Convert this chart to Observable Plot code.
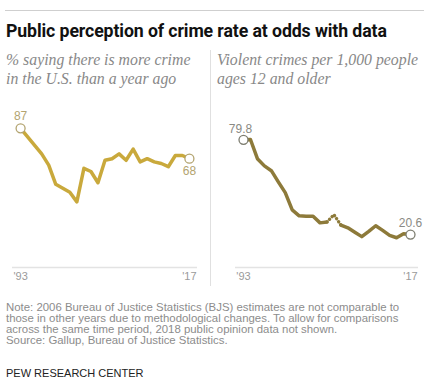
<!DOCTYPE html>
<html>
<head>
<meta charset="utf-8">
<script src="https://cdn.jsdelivr.net/npm/d3@7"></script>
<script src="https://cdn.jsdelivr.net/npm/@observablehq/plot@0.6"></script>
<style>
  html, body { margin: 0; padding: 0; background: #fff; }
  #chart { position: relative; width: 429px; height: 390px; overflow: hidden; font-family: "Liberation Sans", Arial, sans-serif; }
  .rule { position: absolute; left: 5px; top: 10px; width: 419px; height: 1px; background: #cfcfcf; }
  .title { position: absolute; left: 6px; top: 21px; font-family: Roboto, "Liberation Sans", sans-serif; font-weight: 700; font-size: 17.7px; color: #111; white-space: nowrap; letter-spacing: -0.1px; }
  .sub { position: absolute; top: 50px; font-family: "Liberation Serif", serif; font-style: italic; font-size: 15.8px; line-height: 19px; color: #888; white-space: nowrap; }
  .divider { position: absolute; left: 210px; top: 50px; width: 1px; height: 236px; background: #e0e0e0; }
  .panel { position: absolute; top: 90px; }
  .notes { position: absolute; left: 6px; top: 302px; font-size: 11.4px; line-height: 11px; color: #8c8c8c; white-space: nowrap; }
  .pew { position: absolute; left: 6px; top: 367px; font-size: 11px; color: #222; white-space: nowrap; }
</style>
</head>
<body>
<div id="chart">
  <div class="rule"></div>
  <div class="title">Public perception of crime rate at odds with data</div>
  <div class="sub" style="left:6px">% saying there is more crime<br>in the U.S. than a year ago</div>
  <div class="sub" style="left:217px">Violent crimes per 1,000 people<br>ages 12 and older</div>
  <div class="divider"></div>
  <div class="panel" id="left" style="left:0px"></div>
  <div class="panel" id="right" style="left:210px"></div>
  <div class="notes">Note: 2006 Bureau of Justice Statistics (BJS) estimates are not comparable to<br>those in other years due to methodological changes. To allow for comparisons<br>across the same time period, 2018 public opinion data not shown.<br>Source: Gallup, Bureau of Justice Statistics.</div>
  <div class="pew">PEW RESEARCH CENTER</div>
</div>
<script>
// Gallup: % saying there is more crime in the U.S. than a year ago
const gallupYears = [1993,1996,1997,1998,2000,2001,2002,2003,2004,2005,2006,2007,2008,2009,2010,2011,2012,2013,2014,2015,2016,2017];
const gallupValues = [87,71,64,52,47,41,62,60,53,67,68,71,67,74,66,68,66,65,63,70,70,68];

// BJS: violent crimes per 1,000 people ages 12 and older
const bjsYears = [1993,1994,1995,1996,1997,1998,1999,2000,2001,2002,2003,2004,2005,2006,2007,2008,2009,2010,2011,2012,2013,2014,2015,2016,2017];
const bjsValues = [79.8,80.0,68.0,63.5,60.5,53.5,46.8,36.0,32.3,32.1,32.0,27.9,28.5,33.0,26.5,24.8,22.0,19.3,22.6,26.1,23.2,20.1,18.6,21.1,20.6];

const tickYears = [1993, 2017];
const tickLabels = ["'93", "'17"];
const noteYear = 2006; // not comparable (drawn dotted)

const gold = "#c9a93c";
const olive = "#8d7a3a";

const gallup = gallupYears.map((y, i) => ({year: y, value: gallupValues[i]}));
const bjs = bjsYears.map((y, i) => ({year: y, value: bjsValues[i]}));
const bjsA = bjs.filter(d => d.year <= noteYear - 1);
const bjsB = bjs.filter(d => d.year >= noteYear - 1 && d.year <= noteYear + 1);
const bjsC = bjs.filter(d => d.year >= noteYear + 1);

const xCommon = {
  domain: [1991.85, 2018.15],
  ticks: tickYears,
  tickFormat: d => tickLabels[tickYears.indexOf(d)],
  tickSize: 0,
  tickPadding: 5,
  label: null
};
const style = {fontFamily: "'Liberation Sans', Arial, sans-serif", fontSize: "11px", color: "#9a9a9a", background: "transparent", overflow: "visible"};

const gFirst = gallup[0], gLast = gallup[gallup.length - 1];
const leftPlot = Plot.plot({
  width: 210, height: 195,
  marginLeft: 12, marginRight: 13, marginTop: 17, marginBottom: 18,
  x: xCommon,
  y: {domain: [0, 100], axis: null},
  style,
  marks: [
    Plot.ruleY([0], {stroke: "#e3e3e3", strokeWidth: 1.5}),
    Plot.line(gallup, {x: "year", y: "value", stroke: gold, strokeWidth: 3.5, strokeLinejoin: "round", strokeLinecap: "round"}),
    Plot.dot([gFirst, gLast], {x: "year", y: "value", r: 4.5, fill: "white", stroke: "#b3a470", strokeWidth: 1.3}),
    Plot.text([gFirst], {x: "year", y: "value", text: d => String(d.value), dy: -12, fill: "#b3a470", fontSize: 12}),
    Plot.text([gLast], {x: "year", y: "value", text: d => String(d.value), dy: 12, fill: "#b3a470", fontSize: 12})
  ]
});
document.getElementById("left").appendChild(leftPlot);

const bFirst = bjs[0], bLast = bjs[bjs.length - 1];
const rightPlot = Plot.plot({
  width: 219, height: 195,
  marginLeft: 25, marginRight: 11, marginTop: 17, marginBottom: 18,
  x: xCommon,
  y: {domain: [0, 100], axis: null},
  style,
  marks: [
    Plot.ruleY([0], {stroke: "#e3e3e3", strokeWidth: 1.5}),
    Plot.line(bjsA, {x: "year", y: "value", stroke: olive, strokeWidth: 3.5, strokeLinejoin: "round", strokeLinecap: "round"}),
    Plot.line(bjsB, {x: "year", y: "value", stroke: olive, strokeWidth: 3.4, strokeLinecap: "round", strokeDasharray: "0.1,3.6", strokeDashoffset: -3.6}),
    Plot.line(bjsC, {x: "year", y: "value", stroke: olive, strokeWidth: 3.5, strokeLinejoin: "round", strokeLinecap: "round"}),
    Plot.dot([bFirst, bLast], {x: "year", y: "value", r: 4.5, fill: "white", stroke: "#7d7d70", strokeWidth: 1.3}),
    Plot.text([bFirst], {x: "year", y: "value", text: d => d.value.toFixed(1), dy: -11, dx: -3, fill: "#8a8a84", fontSize: 12}),
    Plot.text([bLast], {x: "year", y: "value", text: d => d.value.toFixed(1), dy: -11, fill: "#8a8a84", fontSize: 12})
  ]
});
document.getElementById("right").appendChild(rightPlot);
</script>
</body>
</html>
